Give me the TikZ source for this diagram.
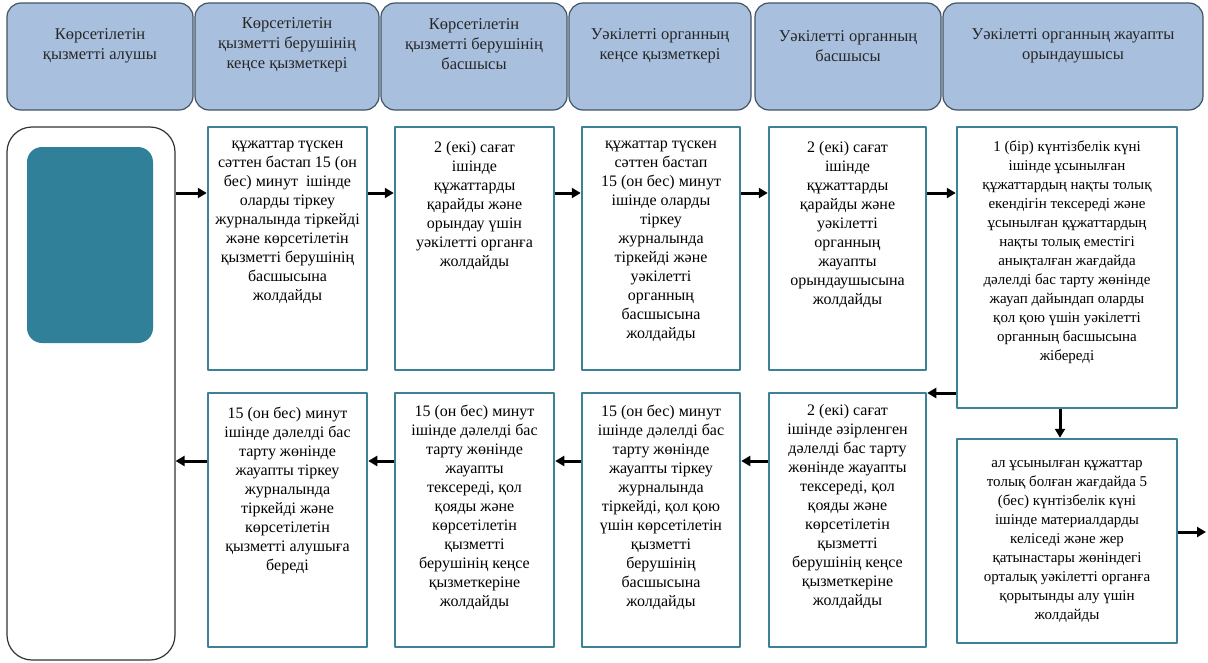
\documentclass[tikz,border=0pt]{standalone}
\usepackage{fontspec}
\setmainfont{Liberation Serif}
\usetikzlibrary{arrows.meta,positioning}
\definecolor{headfill}{HTML}{A8C0DE}
\definecolor{headline}{HTML}{425466}
\definecolor{boxline}{HTML}{3C8196}
\definecolor{tealfill}{HTML}{31809A}
\begin{document}
\begin{tikzpicture}[x=1pt, y=-1pt, line join=round,
  head node/.style={draw=headline, line width=1.2pt, fill=headfill, rounded corners=14pt, minimum height=107pt, inner sep=0pt},
  head text/.style={align=center, inner sep=0pt, font=\fontsize{16.5}{20}\selectfont, text=black!85},
  step node/.style={draw=boxline, line width=2.5pt, inner sep=0pt},
  step text/.style={anchor=north, align=center, inner sep=0pt, font=\fontsize{16}{19}\selectfont, text=black},
  wide text/.style={step text, font=\fontsize{15}{19}\selectfont},
  arr/.style={-{Triangle[length=9pt,width=10pt]}, line width=3pt}]
\useasboundingbox (0,0) rectangle (1208,662);
% header row
\begin{scope}
\node[head node, minimum width=186pt] (h1) at (100,56.5) {};
\node[head node, minimum width=184pt] (h2) at (287,56.5) {};
\node[head node, minimum width=186pt] (h3) at (474,56.5) {};
\node[head node, minimum width=182pt] (h4) at (660,56.5) {};
\node[head node, minimum width=186pt] (h5) at (848,56.5) {};
\node[head node, minimum width=260pt] (h6) at (1073,56.5) {};
\node[head text] (h1t) at (h1 |- 0,46) {Көрсетілетін\\қызметті алушы};
\node[head text] (h2t) at (h2 |- 0,44.5) {Көрсетілетін\\қызметті берушінің\\кеңсе қызметкері};
\node[head text] (h3t) at (h3 |- 0,44.5) {Көрсетілетін\\қызметті берушінің\\басшысы};
\node[head text] (h4t) at (h4 |- 0,46) {Уәкілетті органның\\кеңсе қызметкері};
\node[head text] (h5t) at (h5 |- 0,46) {Уәкілетті органның\\басшысы};
\node[head text] (h6t) at (h6 |- 0,46) {Уәкілетті органның жауапты\\орындаушысы};
\end{scope}
% service recipient
\node[draw=black!80, line width=1.2pt, rounded corners=25pt, minimum width=168pt, minimum height=533pt] (client) at (91,393.5) {};
\node[fill=tealfill, rounded corners=15pt, minimum width=126pt, minimum height=196pt] (clientfig) at (90,245) {};
% steps, top row
\begin{scope}
\node[step node, minimum width=159pt, minimum height=243pt] (s1) at (287.5,248.5) {};
\node[step node, minimum width=159pt, minimum height=243pt] (s2) at (474.5,248.5) {};
\node[step node, minimum width=158pt, minimum height=243pt] (s3) at (661,248.5) {};
\node[step node, minimum width=157pt, minimum height=243pt] (s4) at (847.5,248.5) {};
\node[step node, minimum width=220pt, minimum height=281pt] (s5) at (1067,267.5) {};
\node[step text] (s1t) at ([yshift=-15pt]s1.north) {құжаттар түскен\\сәттен бастап 15 (он\\бес) минут \ ішінде\\оларды тіркеу\\журналында тіркейді\\және көрсетілетін\\қызметті берушінің\\басшысына\\жолдайды};
\node[step text] (s2t) at ([yshift=-15pt]s2.north) {2 (екі) сағат\\ішінде\\құжаттарды\\қарайды және\\орындау үшін\\уәкілетті органға\\жолдайды};
\node[step text] (s3t) at ([yshift=-15pt]s3.north) {құжаттар түскен\\сәттен бастап\\15 (он бес) минут\\ішінде оларды\\тіркеу\\журналында\\тіркейді және\\уәкілетті\\органның\\басшысына\\жолдайды};
\node[step text] (s4t) at ([yshift=-15pt]s4.north) {2 (екі) сағат\\ішінде\\құжаттарды\\қарайды және\\уәкілетті\\органның\\жауапты\\орындаушысына\\жолдайды};
\node[wide text] (s5t) at ([yshift=-15pt]s5.north) {1 (бір) күнтізбелік күні\\ішінде ұсынылған\\құжаттардың нақты толық\\екендігін тексереді және\\ұсынылған құжаттардың\\нақты толық еместігі\\анықталған жағдайда\\дәлелді бас тарту жөнінде\\жауап дайындап оларды\\қол қою үшін уәкілетті\\органның басшысына\\жібереді};
\end{scope}
% steps, bottom row
\begin{scope}
\node[step node, minimum width=159pt, minimum height=254pt] (s6) at (287.5,520) {};
\node[step node, minimum width=159pt, minimum height=254pt] (s7) at (474.5,520) {};
\node[step node, minimum width=158pt, minimum height=254pt] (s8) at (661,520) {};
\node[step node, minimum width=157pt, minimum height=254pt] (s9) at (847.5,520) {};
\node[step node, minimum width=220pt, minimum height=204pt] (s10) at (1067,541) {};
\node[step text] (s6t) at ([yshift=-15pt]s6.north) {15 (он бес) минут\\ішінде дәлелді бас\\тарту жөнінде\\жауапты тіркеу\\журналында\\тіркейді және\\көрсетілетін\\қызметті алушыға\\береді};
\node[step text] (s7t) at ([yshift=-13pt]s7.north) {15 (он бес) минут\\ішінде дәлелді бас\\тарту жөнінде\\жауапты\\тексереді, қол\\қояды және\\көрсетілетін\\қызметті\\берушінің кеңсе\\қызметкеріне\\жолдайды};
\node[step text] (s8t) at ([yshift=-13pt]s8.north) {15 (он бес) минут\\ішінде дәлелді бас\\тарту жөнінде\\жауапты тіркеу\\журналында\\тіркейді, қол қою\\үшін көрсетілетін\\қызметті\\берушінің\\басшысына\\жолдайды};
\node[step text] (s9t) at ([yshift=-12pt]s9.north) {2 (екі) сағат\\ішінде әзірленген\\дәлелді бас тарту\\жөнінде жауапты\\тексереді, қол\\қояды және\\көрсетілетін\\қызметті\\берушінің кеңсе\\қызметкеріне\\жолдайды};
\node[wide text] (s10t) at ([yshift=-22pt]s10.north) {ал ұсынылған құжаттар\\толық болған жағдайда 5\\(бес) күнтізбелік күні\\ішінде материалдарды\\келіседі және жер\\қатынастары жөніндегі\\орталық уәкілетті органға\\қорытынды алу үшін\\жолдайды};
\end{scope}
% arrows
\coordinate (r1) at (0,193);
\coordinate (r2) at (0,461);
\coordinate (r3) at (0,393);
\coordinate (r4) at (0,532);
\coordinate (out) at (1206,532);
\begin{scope}
\draw[arr] (client.east |- r1) -- (s1.west |- r1);
\draw[arr] (s1.east |- r1) -- (s2.west |- r1);
\draw[arr] (s2.east |- r1) -- (s3.west |- r1);
\draw[arr] (s3.east |- r1) -- (s4.west |- r1);
\draw[arr] (s4.east |- r1) -- (s5.west |- r1);
\draw[arr] (s5.west |- r3) -- (s9.east |- r3);
\draw[arr] ([xshift=-7pt]s5.south) -- ([xshift=-7pt]s10.north);
\draw[arr] (s10.east |- r4) -- (out);
\draw[arr] (s9.west |- r2) -- (s8.east |- r2);
\draw[arr] (s8.west |- r2) -- (s7.east |- r2);
\draw[arr] (s7.west |- r2) -- (s6.east |- r2);
\draw[arr] (s6.west |- r2) -- (client.east |- r2);
\end{scope}
\end{tikzpicture}
\end{document}
